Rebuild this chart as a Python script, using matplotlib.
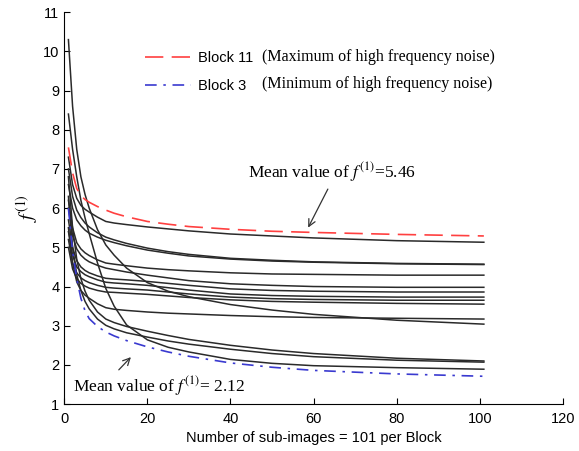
import matplotlib.pyplot as plt

plt.rcParams['mathtext.fontset'] = 'stix'

# sample positions along each block (sub-image index)
x = [1, 2, 3, 4, 5, 6, 8, 10, 12, 15, 20, 25, 30, 40, 50, 60, 80, 101]

# f(1) per block
block11 = [7.55, 6.9, 6.5, 6.32, 6.22, 6.15, 6.04, 5.95, 5.87, 5.78, 5.66, 5.59, 5.53, 5.46, 5.41, 5.38, 5.33, 5.29]
block3 = [6.0, 4.9, 4.2, 3.7, 3.38, 3.18, 2.98, 2.84, 2.74, 2.62, 2.46, 2.33, 2.22, 2.05, 1.94, 1.86, 1.77, 1.71]

others = [
    [7.3, 6.6, 6.25, 6.07, 5.97, 5.9, 5.77, 5.66, 5.62, 5.58, 5.52, 5.47, 5.42, 5.34, 5.29, 5.24, 5.17, 5.13],
    [7.0, 6.3, 5.95, 5.76, 5.62, 5.52, 5.37, 5.26, 5.19, 5.1, 4.98, 4.89, 4.82, 4.72, 4.67, 4.63, 4.59, 4.57],
    [6.6, 6.0, 5.7, 5.55, 5.44, 5.36, 5.26, 5.18, 5.12, 5.04, 4.93, 4.85, 4.78, 4.70, 4.65, 4.62, 4.58, 4.56],
    [6.2, 5.5, 5.12, 4.96, 4.86, 4.79, 4.68, 4.60, 4.57, 4.53, 4.47, 4.43, 4.40, 4.35, 4.32, 4.31, 4.29, 4.29],
    [6.0, 5.3, 4.96, 4.8, 4.7, 4.63, 4.54, 4.47, 4.43, 4.37, 4.29, 4.22, 4.15, 4.07, 4.03, 4.0, 3.98, 3.98],
    [5.7, 5.0, 4.66, 4.5, 4.41, 4.35, 4.27, 4.21, 4.19, 4.17, 4.13, 4.08, 4.03, 3.94, 3.9, 3.88, 3.86, 3.86],
    [5.4, 4.8, 4.5, 4.38, 4.3, 4.25, 4.17, 4.11, 4.09, 4.07, 4.03, 3.97, 3.91, 3.81, 3.77, 3.75, 3.73, 3.73],
    [5.2, 4.6, 4.35, 4.22, 4.15, 4.1, 4.03, 3.98, 3.96, 3.94, 3.91, 3.86, 3.81, 3.73, 3.69, 3.67, 3.65, 3.65],
    [5.0, 4.45, 4.2, 4.08, 4.01, 3.96, 3.9, 3.86, 3.85, 3.83, 3.80, 3.76, 3.72, 3.66, 3.62, 3.60, 3.57, 3.55],
    [10.3, 8.6, 7.5, 6.8, 6.35, 6.0, 5.45, 5.06, 4.8, 4.47, 4.1, 3.88, 3.74, 3.54, 3.4, 3.29, 3.14, 3.04],
    [5.5, 4.6, 4.12, 3.9, 3.78, 3.7, 3.56, 3.46, 3.42, 3.39, 3.35, 3.32, 3.3, 3.26, 3.23, 3.21, 3.19, 3.17],
    [6.8, 5.5, 4.7, 4.2, 3.88, 3.65, 3.35, 3.17, 3.08, 2.98, 2.86, 2.75, 2.65, 2.5, 2.38, 2.29, 2.17, 2.10],
    [6.3, 5.0, 4.3, 3.9, 3.62, 3.43, 3.17, 3.01, 2.92, 2.82, 2.71, 2.61, 2.53, 2.40, 2.29, 2.21, 2.12, 2.07],
    [8.4, 7.5, 6.8, 6.2, 5.75, 5.35, 4.6, 3.95, 3.5, 3.02, 2.64, 2.45, 2.33, 2.14, 2.04, 1.98, 1.93, 1.89],
]

fig = plt.figure(figsize=(5.79, 4.51), dpi=100)
ax = fig.add_axes([0.111, 0.104, 0.861, 0.869])

for y in others:
    ax.plot(x, y, color='#2a2a2a', lw=1.1)

ax.plot(x, block11, color='#ff4040', lw=1.2, dashes=(11, 5), label='Block 11')
ax.plot(x, block3, color='#3a3ad0', lw=1.2, dashes=(7, 4, 1.5, 4), label='Block 3')

ax.set_xlim(0, 120)
ax.set_ylim(1, 11)
ax.set_xticks(range(0, 121, 20))
ax.set_yticks(range(1, 12))
ax.spines['top'].set_visible(False)
ax.spines['right'].set_visible(False)
ax.tick_params(direction='in', labelsize=10.5, length=4)
ax.tick_params(axis='x', pad=6)
for lab in ax.get_xticklabels() + ax.get_yticklabels():
    lab.set_family('Liberation Sans')

ax.set_xlabel('Number of sub-images = 101 per Block', family='Liberation Sans',
              fontsize=10.5, labelpad=3)
ax.set_ylabel(r'$f^{(1)}$', fontsize=14, labelpad=2)

leg = ax.legend(loc='upper left', bbox_to_anchor=(0.135, 0.935), frameon=False,
                handlelength=3.2, handletextpad=0.45, labelspacing=0.95,
                prop={'family': 'Liberation Sans', 'size': 10.5})

ax.text(0.397, 0.885, '(Maximum of high frequency noise)', transform=ax.transAxes,
        family='Liberation Serif', fontsize=11.5, va='center')
ax.text(0.397, 0.817, '(Minimum of high frequency noise)', transform=ax.transAxes,
        family='Liberation Serif', fontsize=11.5, va='center')

ax.annotate(r'Mean value of $f^{(1)}$=5.46', xy=(58.4, 5.44), xytext=(64.5, 6.62),
            fontsize=12.5, family='Liberation Serif', ha='center', va='bottom',
            arrowprops=dict(arrowstyle='->', color='#333333', lw=0.9,
                            relpos=(0.49, 0.0)))
ax.annotate(r'Mean value of $f^{(1)}$= 2.12', xy=(16.5, 2.25), xytext=(22.8, 1.45),
            fontsize=12.5, family='Liberation Serif', ha='center', va='center',
            arrowprops=dict(arrowstyle='->', color='#333333', lw=0.9,
                            relpos=(0.24, 1.0)))

fig.savefig('out.png', dpi=100)
